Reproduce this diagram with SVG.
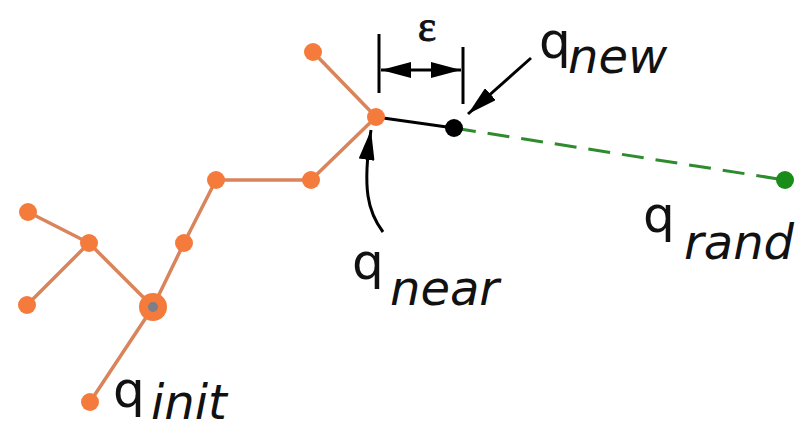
<svg xmlns="http://www.w3.org/2000/svg" width="805" height="431" viewBox="0 0 805 431">
<defs>
<marker id="ah" viewBox="0 0 10 10" refX="10" refY="5" markerUnits="userSpaceOnUse" markerWidth="30" markerHeight="16" orient="auto-start-reverse" preserveAspectRatio="none">
<path d="M0,0 L10,5 L0,10 Z" fill="#000"/>
</marker>
</defs>
<style>
.e{stroke:#D9845A;stroke-width:3.5;fill:none;stroke-linecap:round}
.n{fill:#F47B3C}
.k{stroke:#000;stroke-width:3;fill:none}
.q{font-family:"DejaVu Sans",Verdana,sans-serif;font-size:50px;fill:#111}
.s{font-family:"DejaVu Sans",Verdana,sans-serif;font-size:48px;font-style:italic;fill:#111}
</style>
<rect width="805" height="431" fill="#fff"/>
<g id="connectors">
<line class="e" x1="28" y1="212" x2="89" y2="243"/>
<line class="e" x1="89" y1="243" x2="27" y2="305"/>
<line class="e" x1="89" y1="243" x2="153" y2="307"/>
<line class="e" x1="153" y1="307" x2="90" y2="402"/>
<line class="e" x1="153" y1="307" x2="184" y2="243"/>
<line class="e" x1="184" y1="243" x2="216" y2="180"/>
<line class="e" x1="216" y1="180" x2="311" y2="180"/>
<line class="e" x1="311" y1="180" x2="376" y2="117"/>
<line class="e" x1="313" y1="52" x2="376" y2="117"/>
<line class="k" x1="376" y1="117" x2="454" y2="128"/>
<line x1="454" y1="128" x2="785" y2="180" stroke="#2E8B2E" stroke-width="3" stroke-dasharray="22,12"/>
<line class="k" x1="379" y1="34" x2="379" y2="93"/>
<line class="k" x1="463" y1="47" x2="463" y2="104"/>
<line class="k" x1="381" y1="70" x2="461" y2="70" marker-start="url(#ah)" marker-end="url(#ah)"/>
<line class="k" x1="531" y1="58" x2="468" y2="114" marker-end="url(#ah)"/>
<path class="k" d="M383,232 C368,212 362,190 371,130" marker-end="url(#ah)"/>
</g>
<g id="n1"><circle class="n" cx="28" cy="212" r="9"/></g>
<g id="n2"><circle class="n" cx="89" cy="243" r="9"/></g>
<g id="n3"><circle class="n" cx="27" cy="305" r="9"/></g>
<g id="qinit"><circle class="n" cx="153" cy="307" r="14"/><circle cx="153" cy="307" r="5" fill="#7E7E8A"/></g>
<g id="n5"><circle class="n" cx="90" cy="402" r="9"/></g>
<g id="n6"><circle class="n" cx="184" cy="243" r="9"/></g>
<g id="n7"><circle class="n" cx="216" cy="180" r="9"/></g>
<g id="n8"><circle class="n" cx="311" cy="180" r="9"/></g>
<g id="n9"><circle class="n" cx="313" cy="52" r="9"/></g>
<g id="qnear"><circle class="n" cx="376" cy="117" r="9"/></g>
<g id="qnew"><circle cx="454" cy="128" r="9" fill="#000"/></g>
<g id="qrand"><circle cx="785" cy="180" r="9" fill="#1A8C1A"/></g>
<g id="labels">
<text x="427" y="41" text-anchor="middle" font-family="Liberation Serif,serif" font-size="44" fill="#111" stroke="#111" stroke-width="0.8">ε</text>
<text class="q" x="539" y="58">q</text><text class="s" x="568" y="73">new</text>
<text class="q" x="352" y="279">q</text><text class="s" x="390" y="305">near</text>
<text class="q" x="643" y="232">q</text><text class="s" x="684" y="259">rand</text>
<text class="q" x="113" y="407">q</text><text class="s" x="151" y="419">init</text>
</g>
</svg>
